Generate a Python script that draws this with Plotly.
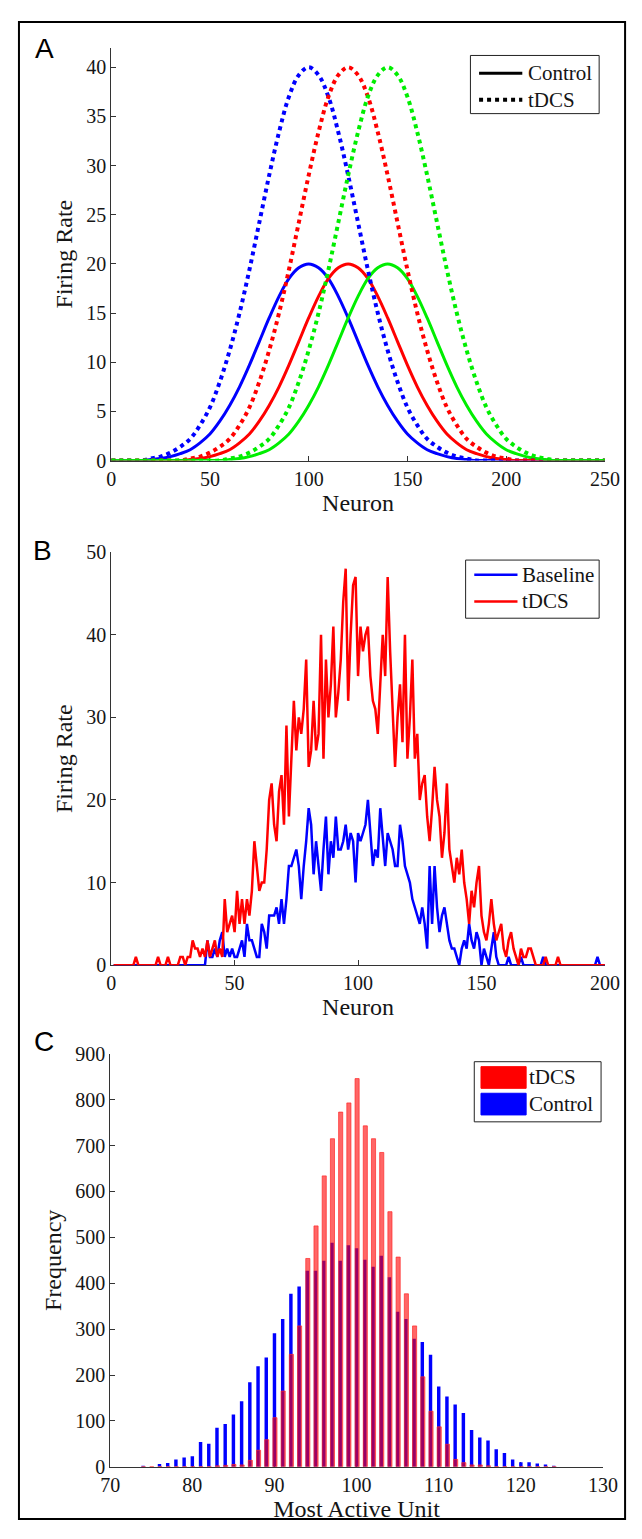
import plotly.graph_objects as go

# The page has an 8px body margin: the figure sits at (8, 8) inside the 642x1539 window.
OFF = 8
W, H = 642 - OFF, 1539 - 2 * OFF

# ---------------- Panel A data ----------------
a_x = list(range(0, 255, 5))
a_ctrl_blue = [0, 0, 0, 0, 0.1, 0.2, 0.4, 0.7, 1.1, 1.8, 2.7, 4.0, 5.6, 7.5, 9.7, 12.1, 14.5, 16.7, 18.5, 19.6,
               20, 19.6, 18.5, 16.7, 14.5, 12.1, 9.7, 7.5, 5.6, 4.0, 2.7, 1.8, 1.1, 0.7, 0.4, 0.2, 0.1, 0, 0, 0,
               0, 0, 0, 0, 0, 0, 0, 0, 0, 0, 0]
a_ctrl_red = [0, 0, 0, 0, 0, 0, 0, 0, 0.1, 0.2, 0.4, 0.7, 1.1, 1.8, 2.7, 4.0, 5.6, 7.5, 9.7, 12.1,
              14.5, 16.7, 18.5, 19.6, 20, 19.6, 18.5, 16.7, 14.5, 12.1, 9.7, 7.5, 5.6, 4.0, 2.7, 1.8, 1.1, 0.7, 0.4, 0.2,
              0.1, 0, 0, 0, 0, 0, 0, 0, 0, 0, 0]
a_ctrl_green = [0, 0, 0, 0, 0, 0, 0, 0, 0, 0, 0, 0, 0.1, 0.2, 0.4, 0.7, 1.1, 1.8, 2.7, 4.0,
                5.6, 7.5, 9.7, 12.1, 14.5, 16.7, 18.5, 19.6, 20, 19.6, 18.5, 16.7, 14.5, 12.1, 9.7, 7.5, 5.6, 4.0, 2.7, 1.8,
                1.1, 0.7, 0.4, 0.2, 0.1, 0, 0, 0, 0, 0, 0]
a_tdcs_blue = [0, 0, 0, 0, 0.2, 0.4, 0.8, 1.4, 2.2, 3.6, 5.4, 8.0, 11.2, 15.0, 19.4, 24.2, 29.0, 33.4, 37.0, 39.2,
               40, 39.2, 37.0, 33.4, 29.0, 24.2, 19.4, 15.0, 11.2, 8.0, 5.4, 3.6, 2.2, 1.4, 0.8, 0.4, 0.2, 0, 0, 0,
               0, 0, 0, 0, 0, 0, 0, 0, 0, 0, 0]
a_tdcs_red = [0, 0, 0, 0, 0, 0, 0, 0, 0.2, 0.4, 0.8, 1.4, 2.2, 3.6, 5.4, 8.0, 11.2, 15.0, 19.4, 24.2,
              29.0, 33.4, 37.0, 39.2, 40, 39.2, 37.0, 33.4, 29.0, 24.2, 19.4, 15.0, 11.2, 8.0, 5.4, 3.6, 2.2, 1.4, 0.8, 0.4,
              0.2, 0, 0, 0, 0, 0, 0, 0, 0, 0, 0]
a_tdcs_green = [0, 0, 0, 0, 0, 0, 0, 0, 0, 0, 0, 0, 0.2, 0.4, 0.8, 1.4, 2.2, 3.6, 5.4, 8.0,
                11.2, 15.0, 19.4, 24.2, 29.0, 33.4, 37.0, 39.2, 40, 39.2, 37.0, 33.4, 29.0, 24.2, 19.4, 15.0, 11.2, 8.0, 5.4, 3.6,
                2.2, 1.4, 0.8, 0.4, 0.2, 0, 0, 0, 0, 0, 0]

# ---------------- Panel B data ----------------
b_x = list(range(1, 201))
b_tdcs = [0, 0, 0, 0, 0, 0, 0, 0, 0, 1, 0, 0, 0, 0, 0, 0, 0, 0, 1, 0,
          0, 0, 1, 0, 0, 0, 0, 1, 1, 0, 1, 1, 3, 2, 2, 1, 2, 1, 3, 1,
          2, 3, 1, 2, 1, 8, 4, 5, 6, 4, 9, 5, 8, 5, 8, 6, 9, 15, 12, 9,
          10, 10, 14, 20, 22, 17, 15, 21, 23, 17, 29, 18, 25, 32, 26, 30, 28, 31, 37, 24,
          26, 32, 26, 28, 40, 25, 37, 30, 34, 41, 30, 33, 37, 44, 48, 32, 40, 46, 47, 35,
          41, 38, 40, 41, 35, 32, 31, 28, 34, 40, 35, 47, 38, 30, 24, 30, 34, 27, 40, 25,
          30, 37, 25, 28, 20, 22, 23, 18, 15, 19, 24, 20, 18, 13, 16, 22, 14, 12, 10, 13,
          11, 14, 10, 8, 5, 9, 7, 10, 12, 6, 4, 3, 5, 8, 5, 3, 4, 5, 2, 1,
          3, 4, 2, 1, 0, 2, 1, 1, 2, 2, 1, 0, 0, 0, 0, 1, 0, 0, 0, 0,
          1, 0, 0, 0, 0, 0, 0, 0, 0, 0, 0, 0, 0, 0, 0, 0, 0, 0, 0, 0]
b_base = [0, 0, 0, 0, 0, 0, 0, 0, 0, 0, 0, 0, 0, 0, 0, 0, 0, 0, 0, 0,
          0, 0, 0, 0, 0, 0, 0, 0, 0, 0, 0, 0, 0, 0, 0, 0, 0, 0, 3, 1,
          1, 2, 1, 3, 4, 1, 2, 1, 2, 1, 1, 2, 3, 1, 5, 3, 3, 2, 1, 1,
          5, 4, 2, 6, 6, 6, 7, 5, 8, 5, 8, 12, 12, 13, 14, 12, 8, 12, 15, 19,
          17, 11, 15, 12, 9, 14, 18, 11, 15, 13, 18, 14, 14, 15, 17, 14, 16, 15, 10, 16,
          15, 16, 17, 20, 16, 12, 14, 13, 19, 15, 12, 16, 15, 14, 12, 12, 17, 15, 12, 11,
          10, 8, 7, 6, 5, 7, 5, 2, 12, 5, 12, 7, 4, 6, 7, 5, 3, 2, 2, 1,
          0, 2, 3, 2, 5, 3, 2, 4, 3, 0, 2, 1, 0, 2, 4, 1, 0, 0, 0, 0,
          1, 0, 0, 0, 0, 1, 0, 0, 0, 0, 0, 0, 0, 0, 1, 0, 0, 0, 0, 0,
          0, 0, 0, 0, 0, 0, 0, 0, 0, 0, 0, 0, 0, 0, 0, 0, 1, 0, 0, 0]

# ---------------- Panel C data ----------------
c_units = list(range(74, 125))
c_control = [2, 0, 6, 8, 16, 20, 23, 54, 50, 85, 93, 114, 143, 184, 219, 238, 291, 322, 377, 393,
             427, 427, 449, 488, 449, 483, 476, 451, 436, 460, 413, 338, 322, 279, 272, 244, 175, 153, 136, 117,
             80, 64, 57, 38, 30, 16, 10, 10, 7, 5, 2]
c_tdcs = [0, 0, 0, 0, 0, 0, 0, 0, 0, 2, 3, 5, 4, 14, 36, 59, 107, 165, 245, 307,
          454, 525, 634, 715, 773, 793, 846, 743, 715, 685, 556, 457, 377, 307, 196, 121, 87, 49, 16, 9,
          4, 4, 2, 0, 0, 0, 0, 0, 0, 0, 0]

# ---------------- Text ----------------
panel_labels = ["A", "B", "C"]
a_legend = ["Control", "tDCS"]
b_legend = ["Baseline", "tDCS"]
c_legend = ["tDCS", "Control"]


def px(x):
    # page pixel x -> paper fraction
    return (x - OFF) / W


def py(y):
    # page pixel y -> paper fraction
    return 1 - (y - OFF) / H


BLUE, RED, GREEN = "#0000FF", "#FF0000", "#00EE00"
SERIF = "Liberation Serif, Times New Roman, serif"
SANS = "Liberation Sans, Arial, sans-serif"
TXT = "#151515"

fig = go.Figure()

# Panel A traces
for ys, col in [(a_ctrl_blue, BLUE), (a_ctrl_red, RED), (a_ctrl_green, GREEN)]:
    fig.add_trace(go.Scatter(x=a_x, y=ys, mode="lines", line=dict(color=col, width=3, shape="spline"),
                             xaxis="x", yaxis="y", showlegend=False))
for ys, col in [(a_tdcs_blue, BLUE), (a_tdcs_red, RED), (a_tdcs_green, GREEN)]:
    fig.add_trace(go.Scatter(x=a_x, y=ys, mode="lines",
                             line=dict(color=col, width=4, dash="4px,4px", shape="spline"),
                             xaxis="x", yaxis="y", showlegend=False))

# Panel B traces
fig.add_trace(go.Scatter(x=b_x, y=b_base, mode="lines", line=dict(color=BLUE, width=2.5),
                         xaxis="x2", yaxis="y2", showlegend=False))
fig.add_trace(go.Scatter(x=b_x, y=b_tdcs, mode="lines", line=dict(color=RED, width=2.5),
                         xaxis="x2", yaxis="y2", showlegend=False))

# Panel C traces
fig.add_trace(go.Bar(x=c_units, y=c_control, width=0.42, marker=dict(color=BLUE, line=dict(width=0)),
                     xaxis="x3", yaxis="y3", showlegend=False))
fig.add_trace(go.Bar(x=[u + 0.06 for u in c_units], y=c_tdcs, width=0.5,
                     marker=dict(color="rgba(255,0,0,0.6)", line=dict(color="rgba(255,40,40,0.7)", width=1)),
                     xaxis="x3", yaxis="y3", showlegend=False))

axis_common = dict(showline=True, linecolor="#333", linewidth=1, ticks="inside", ticklen=5,
                   tickcolor="#333", showgrid=False, zeroline=False, mirror=False,
                   tickfont=dict(family=SERIF, size=20, color=TXT), layer="below traces")
title_font = dict(family=SERIF, size=24, color=TXT)

fig.update_layout(
    width=W, height=H, autosize=False, margin=dict(l=0, r=0, t=0, b=0, pad=0),
    paper_bgcolor="white", plot_bgcolor="white", showlegend=False, barmode="overlay",
    xaxis=dict(axis_common, domain=[px(105), px(619)], anchor="y", range=[0, 250],
               tickvals=[0, 50, 100, 150, 200, 250],
               title=dict(text="Neuron", font=title_font, standoff=4)),
    yaxis=dict(axis_common, domain=[py(456), py(37)], anchor="x", range=[0, 42],
               tickvals=[0, 5, 10, 15, 20, 25, 30, 35, 40],
               title=dict(text="Firing Rate", font=title_font, standoff=6)),
    xaxis2=dict(axis_common, domain=[px(105), px(619)], anchor="y2", range=[0, 200],
                tickvals=[0, 50, 100, 150, 200],
                title=dict(text="Neuron", font=title_font, standoff=4)),
    yaxis2=dict(axis_common, domain=[py(968), py(549)], anchor="x2", range=[0, 50],
                tickvals=[0, 10, 20, 30, 40, 50],
                title=dict(text="Firing Rate", font=title_font, standoff=6)),
    xaxis3=dict(axis_common, domain=[px(104), px(617)], anchor="y3", range=[70, 130],
                tickvals=[70, 80, 90, 100, 110, 120, 130],
                title=dict(text="Most Active Unit", font=title_font, standoff=4)),
    yaxis3=dict(axis_common, domain=[py(1477), py(1058)], anchor="x3", range=[0, 900],
                tickvals=list(range(0, 1000, 100)),
                title=dict(text="Frequency", font=title_font, standoff=6)),
)

shapes = []
annotations = []

# outer frame (bottom edge clamped to the figure area)
shapes.append(dict(type="rect", xref="paper", yref="paper", x0=px(9), x1=px(640),
                   y0=py(OFF + H - 1), y1=py(11),
                   line=dict(color="black", width=2), fillcolor="rgba(0,0,0,0)"))

# panel labels
for lab, (lx, ly) in zip(panel_labels, [(36, 38), (34, 547), (35, 1045)]):
    annotations.append(dict(text=lab, x=px(lx), y=py(ly), xref="paper", yref="paper", showarrow=False,
                            xanchor="center", yanchor="middle", font=dict(family=SANS, size=28, color="black")))

leg_font = dict(family=SERIF, size=21, color=TXT)


def legend_box(x0, x1, y0, y1):
    shapes.append(dict(type="rect", xref="paper", yref="paper", x0=px(x0), x1=px(x1), y0=py(y1), y1=py(y0),
                       line=dict(color="#222", width=1), fillcolor="white", layer="above"))


def legend_text(txt, x, y):
    annotations.append(dict(text=txt, x=px(x), y=py(y), xref="paper", yref="paper", showarrow=False,
                            xanchor="left", yanchor="middle", font=leg_font))


# Legend A
legend_box(479, 613, 45, 104)
shapes.append(dict(type="line", xref="paper", yref="paper", x0=px(488), x1=px(533), y0=py(63), y1=py(63),
                   line=dict(color="black", width=3)))
shapes.append(dict(type="line", xref="paper", yref="paper", x0=px(488), x1=px(533), y0=py(90), y1=py(90),
                   line=dict(color="black", width=4, dash="4px,4px")))
legend_text(a_legend[0], 537, 63)
legend_text(a_legend[1], 537, 90)

# Legend B
legend_box(474, 613, 557, 616)
shapes.append(dict(type="line", xref="paper", yref="paper", x0=px(483), x1=px(528), y0=py(572), y1=py(572),
                   line=dict(color=BLUE, width=2.5)))
shapes.append(dict(type="line", xref="paper", yref="paper", x0=px(483), x1=px(528), y0=py(599), y1=py(599),
                   line=dict(color=RED, width=2.5)))
legend_text(b_legend[0], 531, 572)
legend_text(b_legend[1], 531, 599)

# Legend C
legend_box(483, 615, 1066, 1127)
shapes.append(dict(type="rect", xref="paper", yref="paper", x0=px(490), x1=px(537), y0=py(1093), y1=py(1071),
                   line=dict(color=RED, width=1), fillcolor=RED))
shapes.append(dict(type="rect", xref="paper", yref="paper", x0=px(490), x1=px(537), y0=py(1120), y1=py(1098),
                   line=dict(color=BLUE, width=1), fillcolor=BLUE))
legend_text(c_legend[0], 538, 1082)
legend_text(c_legend[1], 538, 1109)

fig.update_layout(shapes=shapes, annotations=annotations)

fig.write_html("out.html", config={"displayModeBar": False})
